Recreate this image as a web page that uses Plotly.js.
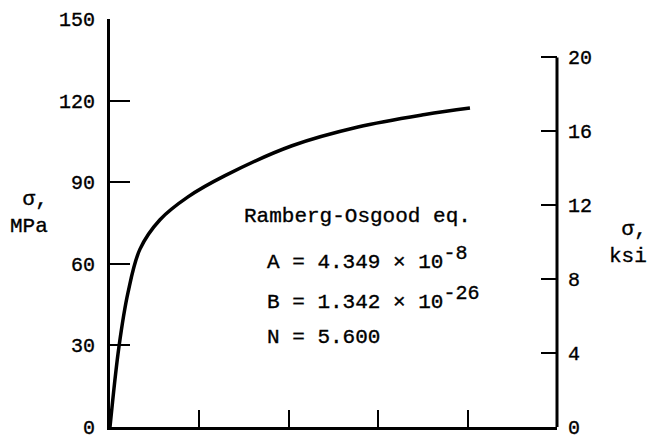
<!DOCTYPE html>
<html>
<head>
<meta charset="utf-8">
<script src="https://cdn.plot.ly/plotly-3.0.1.min.js"></script>
<style>html,body{margin:0;padding:0;background:#fff;}#chart{width:652px;height:440px;}
#chart svg text{stroke:#000;stroke-width:0.35px;}</style>
</head>
<body>
<div id="chart"></div>
<script>
// Strain (x ticks every 0.002, unlabeled)
const strain = [0, 0.000201, 0.000402, 0.000670, 0.001117, 0.001743, 0.002570, 0.004067, 0.005542, 0.007039, 0.008045];
// Stress, MPa
const stressMPa = [0, 29.6, 49.4, 65.4, 76.2, 84.6, 92.4, 103.4, 110.3, 114.9, 117.3];
const xTicks = [0.002, 0.004, 0.006, 0.008];
const mpaTicks = [0, 30, 60, 90, 120, 150];
const ksiTicks = [0, 4, 8, 12, 16, 20];
const eqLines = [
  "Ramberg-Osgood eq.",
  "A = 4.349 × 10<sup>-8</sup>",
  "B = 1.342 × 10<sup>-26</sup>",
  "N = 5.600"
];

const FONT = "Liberation Mono, DejaVu Sans Mono, monospace";
const fs = 21;

const trace = {
  x: strain, y: stressMPa, type: 'scatter', mode: 'lines',
  line: {color: '#000', width: 3.5, shape: 'spline', smoothing: 1},
  hoverinfo: 'skip', showlegend: false
};
const dummy = {x: [0], y: [0], yaxis: 'y2', mode: 'markers', marker: {opacity: 0}, showlegend: false, hoverinfo: 'skip'};

const eqX = [0.2953, 0.3468, 0.3468, 0.3468];
const eqY = [0.5153, 0.4149, 0.3170, 0.2191];
const annotations = eqLines.map((t, i) => ({
  text: t.replace(/<sup>(.*?)<\/sup>/, '<sup><span style="font-size:20px">$1</span></sup>'),
  xref: 'paper', yref: 'paper', x: eqX[i], y: eqY[i], xanchor: 'left', yanchor: 'middle',
  showarrow: false, font: {family: FONT, size: fs, color: '#000'}
}));
annotations.push({text: 'σ,<br>MPa', xref: 'paper', yref: 'paper', x: -0.134, y: 0.525, xanchor: 'right', yanchor: 'middle', showarrow: false, align: 'right', font: {family: FONT, size: fs, color: '#000'}});
annotations.push({text: 'σ,<br>ksi', xref: 'paper', yref: 'paper', x: 1.2058, y: 0.45, xanchor: 'right', yanchor: 'middle', showarrow: false, align: 'right', font: {family: FONT, size: fs, color: '#000'}});

const layout = {
  width: 652, height: 440,
  margin: {l: 110, r: 95, t: 19, b: 13},
  paper_bgcolor: '#fff', plot_bgcolor: '#fff',
  font: {family: FONT, size: 20, color: '#000'},
  xaxis: {
    range: [0, 0.00999], tickvals: xTicks, showticklabels: false,
    ticks: 'inside', ticklen: 17, tickwidth: 2, tickcolor: '#000',
    showline: true, linewidth: 3, linecolor: '#000', showgrid: false, zeroline: false, fixedrange: true
  },
  yaxis: {
    range: [0, 150], tickvals: mpaTicks, ticktext: mpaTicks.map(String),
    ticks: 'inside', ticklen: 20, tickwidth: 2, tickcolor: '#000',
    showline: true, linewidth: 3, linecolor: '#000', showgrid: false, zeroline: false,
    ticklabelstandoff: 8, fixedrange: true
  },
  yaxis2: {
    overlaying: 'y', side: 'right', range: [0, 22.08], tickvals: ksiTicks, ticktext: ksiTicks.map(String),
    ticks: 'inside', ticklen: 16, tickwidth: 2, tickcolor: '#000',
    showline: false, showgrid: false, zeroline: false, ticklabelstandoff: 10, fixedrange: true
  },
  shapes: [{
    type: 'line', xref: 'paper', yref: 'y2', x0: 1, x1: 1, y0: ksiTicks[0], y1: ksiTicks[ksiTicks.length - 1],
    line: {color: '#000', width: 3}
  }],
  annotations: annotations
};

Plotly.newPlot('chart', [trace, dummy], layout, {staticPlot: true, displayModeBar: false});
</script>
</body>
</html>
